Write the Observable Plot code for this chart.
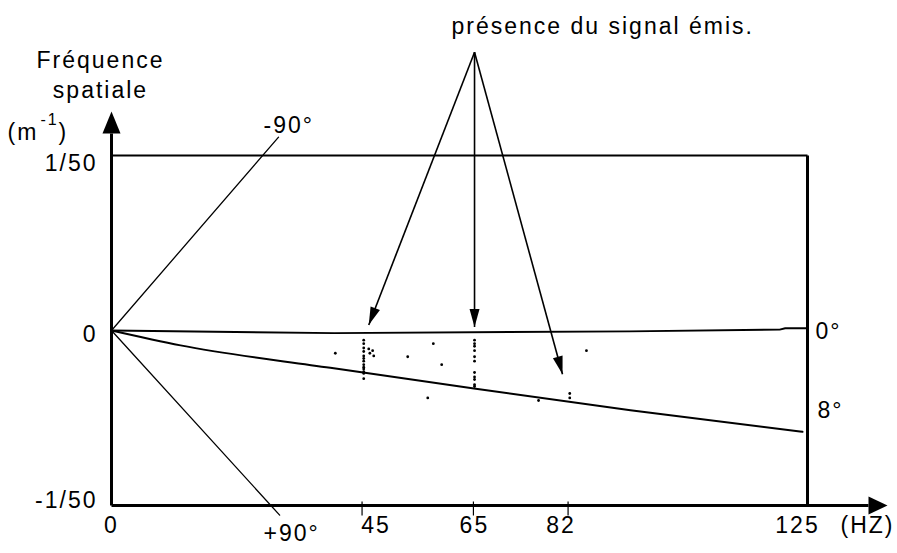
<!DOCTYPE html>
<html><head><meta charset="utf-8">
<script src="https://cdn.jsdelivr.net/npm/d3@7"></script>
<script src="https://cdn.jsdelivr.net/npm/@observablehq/plot@0.6"></script>
<style>body{margin:0;background:#fff}</style>
</head><body><div id="chart"></div>
<script>
// ---- data ----
const xTicks = [0, 45, 65, 82, 125];
const xTickLabels = ["0", "45", "65", "82", "125"];
const xTickMarks = [45, 65, 82];
const xUnit = "(HZ)";
const yTicks = [0.02, 0, -0.02];
const yTickLabels = ["1/50", "0", "-1/50"];
const yTitle = ["Fréquence", "spatiale", "(m", "-1", ")"];
const signalTitle = "présence du signal émis.";

const rayNames = ["-90°", "+90°", "0°", "8°"];
const rayFreq = [
  [0, 30.0],
  [0, 30.2],
  [0, 40, 93, 120, 121, 125],
  [0, 12.4, 39.3, 65.1, 93.2, 124.1]
];
const rayK = [
  [0, 0.0221],
  [0, -0.0211],
  [0, -0.0003, -0.0001, 0.0001, 0.00025, 0.00025],
  [0, -0.0017, -0.00427, -0.00664, -0.00911, -0.01158]
];

const detFreq = [45.3,45.3,45.3,45.3,45.3,45.3,45.3,45.3,45.3,45.3,45.3,45.3,45.3,
  46.2,46.4,46.9,47.1,
  65.2,65.2,65.2,65.2,65.2,65.2,65.2,65.2,65.2,65.2,65.2,
  40.2,57.8,59.3,53.2,56.8,76.7,82.3,82.3,85.3];
const detK = [-0.0011,-0.0015,-0.0020,-0.0024,-0.0029,-0.0032,-0.0035,-0.0039,-0.0042,-0.0044,-0.0047,-0.0049,-0.0055,
  -0.0021,-0.0026,-0.0023,-0.0029,
  -0.0011,-0.0015,-0.0018,-0.0023,-0.0030,-0.0035,-0.0048,-0.0053,-0.0056,-0.0062,-0.0064,
  -0.0026,-0.0015,-0.0039,-0.0030,-0.0077,-0.0080,-0.0072,-0.0077,-0.0023];

const sourceFreq = 65.2, sourceK = 0.0318;
const signalFreq = [46.2, 65.2, 81.0];
const signalK = [0.00063, 0.00040, -0.0050];

// ---- layout ----
const W = 897, H = 553;
const xOpt = {domain: [0, 125], range: [111, 807]};
const yOpt = {domain: [-0.02, 0.02], range: [505, 155]};
const sx = d3.scaleLinear().domain(xOpt.domain).range(xOpt.range);
const sy = d3.scaleLinear().domain(yOpt.domain).range(yOpt.range);
const ix = p => sx.invert(p), iy = p => sy.invert(p);

const FS = 23;
const lbl = (t, xv, yv, dx, dy, anchor = "middle", fs = FS) =>
  Plot.text([t], {x: () => xv, y: () => yv, text: d => d, dx, dy, textAnchor: anchor, fontSize: fs, fill: "black"});

const yMin = -0.02, yMax = 0.02, xMin = 0, xMax = 125;
const link = (x1, y1, x2, y2, sw) =>
  Plot.link([0], {x1: () => x1, y1: () => y1, x2: () => x2, y2: () => y2, stroke: "black", strokeWidth: sw});

const rays = rayNames.map((name, i) => rayFreq[i].map((f, j) => ({name, f, k: rayK[i][j]})));
const rayWidths = [1.3, 1.3, 2, 2];
const rayCurves = ["linear", "linear", "linear", "monotone-x"];
const rayLabelOffsets = [[-15, -12, "start"], [12, 18, "middle"], [8, 3, "start"], [15, -21, "start"]];

const dets = detFreq.map((f, i) => ({f, k: detK[i]}));
const signals = signalFreq.map((f, i) => ({f, k: signalK[i]}));
const ax = sx(sourceFreq), ay = sy(sourceK);
const angle = d => Math.atan2(sx(d.f) - ax, -(sy(d.k) - ay)) * 180 / Math.PI;

const yArrowBase = iy(sy(yMax) - 22);
const xArrowBase = ix(868);

const marks = [
  // frame
  link(xMin, yMin, xMin, yArrowBase, 3),
  link(xMin, yMin, xArrowBase, yMin, 3),
  link(xMin, yMax, xMax, yMax, 2),
  link(xMax, yMin, xMax, yMax, 3),
  Plot.vector([0], {x: () => xMin, y: () => yArrowBase, length: 22, r: 9, rotate: 0, anchor: "start", shape: "spike", fill: "black", stroke: "none"}),
  Plot.vector([0], {x: () => xArrowBase, y: () => yMin, length: 19, r: 9, rotate: 90, anchor: "start", shape: "spike", fill: "black", stroke: "none"}),
  // tick marks
  Plot.link(xTickMarks, {x1: d => d, x2: d => d, y1: () => iy(501), y2: () => iy(515), stroke: "black", strokeWidth: 1.2}),
  // rays
  ...rays.map((r, i) => Plot.line(r, {x: "f", y: "k", stroke: "black", strokeWidth: rayWidths[i], curve: rayCurves[i]})),
  ...rays.map((r, i) => {
    const e = r[r.length - 1];
    const [dx, dy, a] = rayLabelOffsets[i];
    return lbl(e.name, e.f, e.k, dx, dy, a);
  }),
  // detections
  Plot.dot(dets, {x: "f", y: "k", r: 1.4, fill: "black", stroke: "none"}),
  // signal arrows
  Plot.link(signals, {x1: () => sourceFreq, y1: () => sourceK, x2: "f", y2: "k", stroke: "black", strokeWidth: 1.6}),
  Plot.vector(signals, {x: "f", y: "k", rotate: angle, length: 18, r: 5, anchor: "end", shape: "spike", fill: "black", stroke: "none"}),
  lbl(signalTitle, sourceFreq, yMax, -23, -129, "start"),
  // y titles
  lbl(yTitle[0], xMin, yMax, -11, -95),
  lbl(yTitle[1], xMin, yMax, -11, -65),
  lbl(yTitle[2], xMin, yMax, -104, -23, "start"),
  lbl(yTitle[3], xMin, yMax, -71, -36, "start", 16),
  lbl(yTitle[4], xMin, yMax, -53, -23, "start"),
  // y tick labels
  ...yTicks.map((t, i) => lbl(yTickLabels[i], xMin, t, -14, [8, 4, -5][i], "end")),
  // x tick labels
  ...xTicks.map((t, i) => lbl(xTickLabels[i], t, yMin, [0, 14, 1, -7, -10][i], 20)),
  lbl(xUnit, xMax, yMin, 33, 20, "start")
];

const chart = Plot.plot({
  width: W, height: H,
  marginLeft: 111, marginRight: W - 807, marginTop: 155, marginBottom: H - 505,
  x: {...xOpt, axis: null},
  y: {...yOpt, axis: null},
  style: "font-family: 'Liberation Sans', Arial, sans-serif; letter-spacing: 2px; background: white; overflow: visible;",
  marks
});
document.getElementById("chart").appendChild(chart);
</script>
</body></html>
